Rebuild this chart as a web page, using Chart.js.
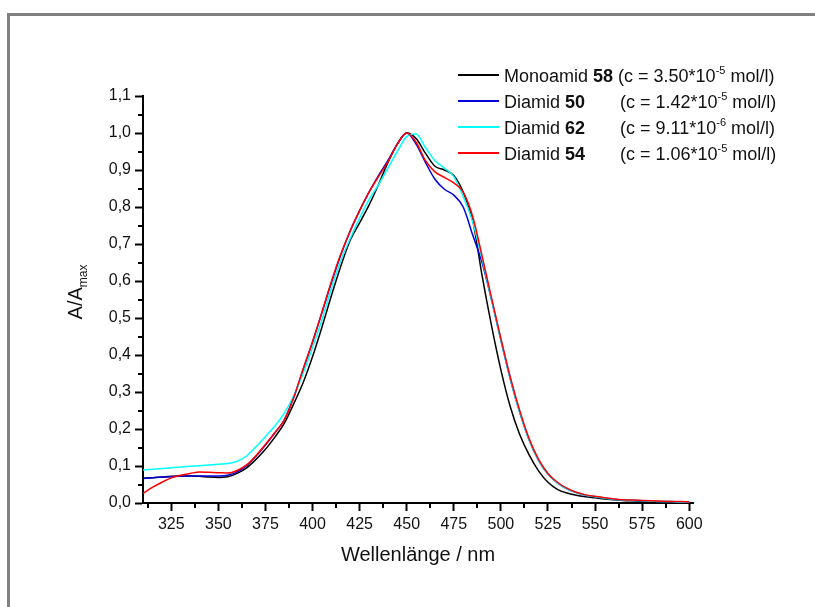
<!DOCTYPE html>
<html>
<head>
<meta charset="utf-8">
<script src="https://cdn.jsdelivr.net/npm/chart.js@4.4.1/dist/chart.umd.min.js"></script>
<style>
  html, body { margin: 0; padding: 0; background: #fff; }
</style>
</head>
<body>
<canvas id="spektrum" width="815" height="607"></canvas>
<script>
// Wellenlängen (nm) und normierte Absorption A/Amax der vier Verbindungen
const wellenlaenge = [
  310, 315, 320, 325, 330, 335, 340, 345, 350, 355,
  360, 365, 370, 375, 380, 385, 390, 395, 400, 405,
  410, 415, 420, 425, 430, 435, 440, 445, 450, 455,
  460, 465, 470, 475, 480, 485, 490, 495, 500, 505,
  510, 515, 520, 525, 530, 535, 540, 545, 550, 555,
  560, 565, 570, 575, 580, 585, 590, 595, 600
];

const monoamid58 = [
  0.067, 0.068, 0.070, 0.072, 0.073, 0.073, 0.072, 0.070, 0.069, 0.071,
  0.080, 0.095, 0.118, 0.145, 0.178, 0.215, 0.268, 0.325, 0.395, 0.475,
  0.560, 0.640, 0.710, 0.757, 0.805, 0.860, 0.920, 0.970, 1.000, 0.985,
  0.945, 0.910, 0.900, 0.885, 0.840, 0.765, 0.615, 0.480, 0.360, 0.260,
  0.185, 0.130, 0.087, 0.056, 0.037, 0.027, 0.021, 0.017, 0.014, 0.011,
  0.009, 0.007, 0.006, 0.005, 0.004, null, null, null, null
];

const diamid50 = [
  0.066, 0.068, 0.070, 0.071, 0.073, 0.073, 0.073, 0.073, 0.073, 0.075,
  0.084, 0.101, 0.127, 0.157, 0.190, 0.225, 0.285, 0.360, 0.435, 0.515,
  0.595, 0.670, 0.735, 0.790, 0.840, 0.885, 0.925, 0.970, 1.000, 0.970,
  0.920, 0.875, 0.848, 0.832, 0.800, 0.725, 0.650, 0.550, 0.440, 0.335,
  0.245, 0.170, 0.115, 0.078, 0.054, 0.038, 0.028, 0.021, 0.017, 0.013,
  0.010, 0.008, 0.007, 0.006, 0.005, 0.004, 0.004, 0.003, 0.003
];

const diamid62 = [
  0.089, 0.091, 0.093, 0.095, 0.097, 0.099, 0.101, 0.103, 0.105, 0.107,
  0.113, 0.127, 0.152, 0.180, 0.208, 0.243, 0.290, 0.350, 0.420, 0.495,
  0.580, 0.655, 0.715, 0.770, 0.820, 0.860, 0.905, 0.950, 0.990, 0.997,
  0.960, 0.925, 0.905, 0.882, 0.828, 0.760, 0.660, 0.550, 0.440, 0.335,
  0.245, 0.170, 0.115, 0.078, 0.054, 0.038, 0.028, 0.021, 0.017, 0.013,
  0.010, 0.008, 0.007, 0.006, 0.005, 0.004, 0.004, 0.003, 0.003
];

const diamid54 = [
  0.026, 0.042, 0.056, 0.068, 0.075, 0.080, 0.084, 0.083, 0.082, 0.081,
  0.088, 0.103, 0.128, 0.158, 0.190, 0.224, 0.285, 0.362, 0.435, 0.515,
  0.598, 0.672, 0.735, 0.790, 0.840, 0.882, 0.922, 0.970, 1.000, 0.975,
  0.925, 0.895, 0.880, 0.865, 0.840, 0.775, 0.668, 0.555, 0.445, 0.340,
  0.250, 0.174, 0.118, 0.080, 0.056, 0.040, 0.029, 0.022, 0.018, 0.014,
  0.011, 0.009, 0.008, 0.007, 0.006, 0.005, 0.004, 0.004, 0.003
];

// Achsenbeschriftung
const xTicks = [325, 350, 375, 400, 425, 450, 475, 500, 525, 550, 575, 600];
const yTicks = [0, 0.1, 0.2, 0.3, 0.4, 0.5, 0.6, 0.7, 0.8, 0.9, 1.0, 1.1];

// Legende
const namen = ['Monoamid', 'Diamid', 'Diamid', 'Diamid'];
const nummern = ['58', '50', '62', '54'];
const konzentration = ['3.50', '1.42', '9.11', '1.06'];
const exponent = ['-5', '-5', '-6', '-5'];
const farben = ['#000000', '#0000dd', '#00ffff', '#ff0000'];

const schrift = '"Liberation Sans", Arial, sans-serif';

function punkte(werte) {
  return wellenlaenge.map((x, i) => ({ x: x, y: werte[i] }));
}

// Rahmen, Nebenstriche, Legende und Achsentitel
const extras = {
  id: 'extras',
  beforeDraw(chart) {
    const ctx = chart.ctx;
    ctx.save();
    ctx.fillStyle = '#fff';
    ctx.fillRect(0, 0, chart.width, chart.height);
    ctx.fillStyle = '#808080';
    ctx.fillRect(7, 13, chart.width - 7, 3);
    ctx.fillRect(7, 13, 3, chart.height - 13);
    ctx.restore();
  },
  afterDraw(chart) {
    const ctx = chart.ctx;
    const xs = chart.scales.x;
    const ys = chart.scales.y;
    const area = chart.chartArea;
    ctx.save();
    ctx.strokeStyle = '#000';
    ctx.lineWidth = 2;
    // Nebenstriche
    ctx.beginPath();
    for (let v = 312.5; v < xs.max; v += 25) {
      const px = Math.round(xs.getPixelForValue(v));
      ctx.moveTo(px, area.bottom);
      ctx.lineTo(px, area.bottom + 5);
    }
    for (let v = 0.05; v < ys.max; v += 0.1) {
      const py = Math.round(ys.getPixelForValue(v));
      ctx.moveTo(area.left, py);
      ctx.lineTo(area.left - 5, py);
    }
    ctx.stroke();

    ctx.fillStyle = '#111';
    ctx.textBaseline = 'alphabetic';
    ctx.textAlign = 'left';

    // Legende
    for (let i = 0; i < namen.length; i++) {
      const y = 75 + i * 26;
      ctx.strokeStyle = farben[i];
      ctx.lineWidth = 2;
      ctx.beginPath();
      ctx.moveTo(458, y);
      ctx.lineTo(499, y);
      ctx.stroke();

      let x = 504;
      const base = y + 6.5;
      ctx.font = '18px ' + schrift;
      ctx.fillText(namen[i] + ' ', x, base);
      x += ctx.measureText(namen[i] + ' ').width;
      ctx.font = 'bold 18px ' + schrift;
      ctx.fillText(nummern[i], x, base);
      x += ctx.measureText(nummern[i]).width;
      ctx.font = '18px ' + schrift;
      if (i === 0) {
        x += ctx.measureText(' ').width;
      } else {
        x = 620;
      }
      const teil1 = '(c = ' + konzentration[i] + '*10';
      ctx.fillText(teil1, x, base);
      x += ctx.measureText(teil1).width;
      ctx.font = '11px ' + schrift;
      ctx.fillText(exponent[i], x, base - 8);
      x += ctx.measureText(exponent[i]).width;
      ctx.font = '18px ' + schrift;
      ctx.fillText(' mol/l)', x, base);
    }

    // x-Achsentitel
    ctx.font = '20px ' + schrift;
    ctx.textAlign = 'center';
    ctx.fillText('Wellenlänge / nm', (area.left + area.right) / 2, 561);

    // y-Achsentitel A/Amax
    ctx.save();
    ctx.translate(82, 292);
    ctx.rotate(-Math.PI / 2);
    ctx.textAlign = 'left';
    ctx.font = '20px ' + schrift;
    const w1 = ctx.measureText('A/A').width;
    ctx.font = '12px ' + schrift;
    const w2 = ctx.measureText('max').width;
    const start = -(w1 + w2) / 2;
    ctx.font = '20px ' + schrift;
    ctx.fillText('A/A', start, 0);
    ctx.font = '12px ' + schrift;
    ctx.fillText('max', start + w1, 5);
    ctx.restore();

    ctx.restore();
  }
};

const ctx = document.getElementById('spektrum').getContext('2d');

new Chart(ctx, {
  type: 'line',
  data: {
    datasets: [
      { label: 'Monoamid 58', data: punkte(monoamid58), borderColor: farben[0], order: 4 },
      { label: 'Diamid 50', data: punkte(diamid50), borderColor: farben[1], order: 3 },
      { label: 'Diamid 62', data: punkte(diamid62), borderColor: farben[2], order: 2 },
      { label: 'Diamid 54', data: punkte(diamid54), borderColor: farben[3], order: 1 }
    ]
  },
  options: {
    responsive: false,
    animation: false,
    events: [],
    datasets: {
      line: {
        borderWidth: 1.5,
        pointRadius: 0,
        fill: false,
        cubicInterpolationMode: 'monotone',
        spanGaps: false
      }
    },
    layout: {
      padding: { left: 0, top: 96, right: 122, bottom: 0 }
    },
    plugins: {
      legend: { display: false },
      tooltip: { enabled: false }
    },
    scales: {
      x: {
        type: 'linear',
        min: 310,
        max: 602,
        afterFit: (s) => { s.height = 104; },
        afterBuildTicks: (s) => { s.ticks = xTicks.map(v => ({ value: v })); },
        border: { display: true, color: '#000', width: 2 },
        grid: { drawOnChartArea: false, drawTicks: true, tickLength: 8, tickWidth: 2, tickColor: '#000' },
        ticks: {
          color: '#111',
          padding: 4,
          maxRotation: 0,
          font: { family: schrift, size: 16 },
          callback: (v) => String(v)
        }
      },
      y: {
        type: 'linear',
        min: 0,
        max: 1.1,
        afterFit: (s) => { s.width = 143; },
        afterBuildTicks: (s) => { s.ticks = yTicks.map(v => ({ value: v })); },
        border: { display: true, color: '#000', width: 2 },
        grid: { drawOnChartArea: false, drawTicks: true, tickLength: 8, tickWidth: 2, tickColor: '#000' },
        ticks: {
          color: '#111',
          padding: 4,
          font: { family: schrift, size: 16 },
          callback: (v) => v.toFixed(1).replace('.', ',')
        }
      }
    }
  },
  plugins: [extras]
});
</script>
</body>
</html>
